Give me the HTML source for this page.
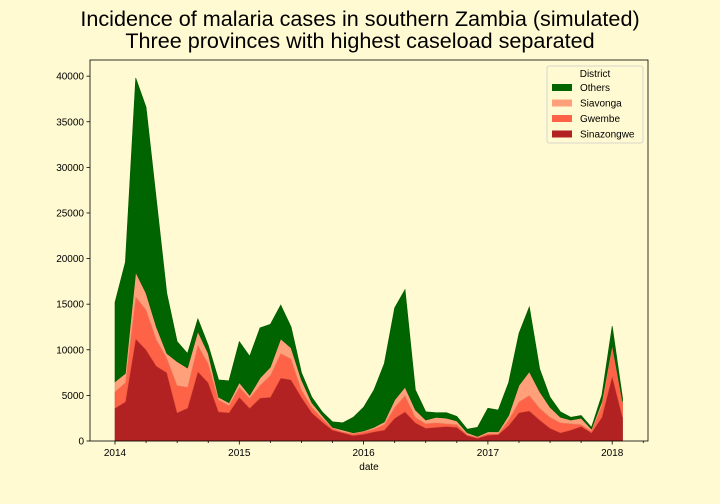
<!DOCTYPE html>
<html><head><meta charset="utf-8"><style>
html,body{margin:0;padding:0;background:#fffad2;}
svg{display:block;font-family:"Liberation Sans","DejaVu Sans",sans-serif;}
</style></head><body>
<svg id="chart" width="720" height="504" viewBox="0 0 720 504">
<rect x="0" y="0" width="720" height="504" fill="#fffad2"/>
<text x="360" y="26" text-anchor="middle" font-size="21.6" fill="#000">Incidence of malaria cases in southern Zambia (simulated)</text>
<text x="360" y="48" text-anchor="middle" font-size="21.6" fill="#000">Three provinces with highest caseload separated</text>
<g id="plot"></g>
</svg>
<script>
// Monthly data Jan 2014 - Feb 2018
const startYear = 2014;
const sinazongwe = [3600,4300,11200,10000,8200,7500,3100,3600,7600,6400,3200,3100,4800,3600,4700,4800,6900,6700,4800,3100,2100,1200,900,600,750,1000,1200,2500,3200,2000,1400,1500,1600,1500,600,300,650,700,1700,3100,3300,2300,1400,900,1200,1600,900,2600,7100,2600];
const gwembe = [1800,2100,4600,4400,2900,1600,3000,2300,2900,2100,1300,800,1100,1100,1400,2400,2700,2300,800,600,400,200,100,200,250,300,600,1200,1800,600,500,500,300,300,100,100,150,100,600,1200,1700,1300,1200,1100,700,200,200,1300,3200,1600];
const siavonga = [1100,1000,2700,1800,1400,500,2600,2100,1500,1100,300,300,500,300,800,900,1600,1200,1100,500,300,100,200,100,100,200,300,800,900,800,400,600,600,400,200,100,200,200,500,1800,2600,1800,1100,600,400,700,200,400,200,100];
const others = [8700,12200,21300,20400,13900,6600,2200,1600,1400,900,1900,2400,4500,4300,5500,4700,3700,2300,800,600,400,600,800,1700,2600,4100,6400,10100,10700,2200,900,500,600,500,400,1000,2600,2400,3600,5700,7100,2500,1100,600,300,300,200,700,2100,400];
const yTicks = [0,5000,10000,15000,20000,25000,30000,35000,40000];
const xTickYears = [2014,2015,2016,2017,2018];
const seriesNames = ["Sinazongwe","Gwembe","Siavonga","Others"];

const L=90,R=648,T=60,B=441;
const yMax=41770;
const colors=["#b22222","#ff6347","#ffa07a","#006400"];
const edge=["#a01c1c","#e8553c","#e8906c","#005a00"];
function yS(v){return B-(v/yMax)*(B-T);}
function xS(m){return 115+m*(124.3/12);} // months since Jan 2014
const NS="http://www.w3.org/2000/svg";
const g=document.getElementById('plot');
function mk(t,a){const e=document.createElementNS(NS,t);for(const k in a)e.setAttribute(k,a[k]);return e;}

const bg=mk('rect',{x:L,y:T,width:R-L,height:B-T,fill:'#fffad2'});


g.appendChild(bg);

const series=[sinazongwe,gwembe,siavonga,others];
const n=sinazongwe.length;
let base=new Array(n).fill(0);
series.forEach((s,si)=>{
  const top=base.map((b,i)=>b+s[i]);
  let d='';
  for(let i=0;i<n;i++)d+=(i?'L':'M')+xS(i).toFixed(2)+','+yS(top[i]).toFixed(2);
  for(let i=n-1;i>=0;i--)d+='L'+xS(i).toFixed(2)+','+yS(base[i]).toFixed(2);
  d+='Z';
  const p=mk('path',{d:d,fill:colors[si],stroke:edge[si],'stroke-width':0.6});
  
  
  g.appendChild(p);
  base=top;
});

const fr=mk('rect',{x:L,y:T,width:R-L,height:B-T,fill:'none',stroke:'#000','stroke-width':0.8});


g.appendChild(fr);

yTicks.forEach(v=>{
  const y=yS(v);
  const t=mk('line',{x1:L-3.5,x2:L,y1:y,y2:y,stroke:'#000','stroke-width':0.8});
  
  
  g.appendChild(t);
  const tx=mk('text',{x:L-6,y:y+3.5,'text-anchor':'end','font-size':10,fill:'#000'});
  tx.textContent=v;
  
  
  g.appendChild(tx);
});
for(let m=0;m<=51;m+=3){
  const x=xS(m);
  if(x>R)break;
  const major=m%12===0;
  const t=mk('line',{x1:x,x2:x,y1:B,y2:B+(major?3.5:2),stroke:'#000','stroke-width':0.8});
  
  
  g.appendChild(t);
}
xTickYears.forEach(yr=>{
  const x=xS((yr-startYear)*12);
  const tx=mk('text',{x:x,y:B+15,'text-anchor':'middle','font-size':10,fill:'#000'});
  tx.textContent=yr;
  
  
  g.appendChild(tx);
});
const xl=mk('text',{x:(L+R)/2,y:B+29,'text-anchor':'middle','font-size':10,fill:'#000'});
xl.textContent='date';


g.appendChild(xl);

const lg=mk('g',{});


g.appendChild(lg);
const lb=mk('rect',{x:547,y:66,width:96,height:77,rx:2,fill:'#fffad2',stroke:'#ccc','stroke-width':0.8});


lg.appendChild(lb);
const lt=mk('text',{x:595,y:77,'text-anchor':'middle','font-size':10,fill:'#000'});
lt.textContent='District';


lg.appendChild(lt);
[3,2,1,0].forEach((si,k)=>{
  const y=84+k*15.5;
  const sw=mk('rect',{x:552,y:y,width:20,height:7,fill:colors[si]});
  
  
  lg.appendChild(sw);
  const tx=mk('text',{x:580,y:y+7,'font-size':10,fill:'#000'});
  tx.textContent=seriesNames[si];
  
  
  lg.appendChild(tx);
});
</script>
</body></html>
